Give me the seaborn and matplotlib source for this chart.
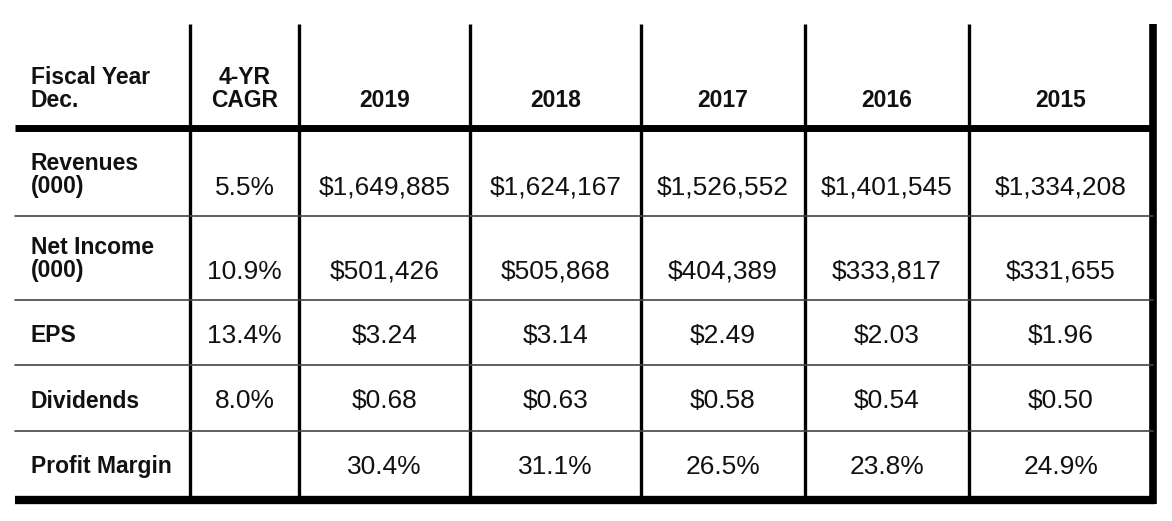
import matplotlib
matplotlib.use("Agg")
import matplotlib.pyplot as plt
import seaborn as sns

sns.set_style("white")
plt.rcParams['font.family'] = ['Liberation Sans', 'DejaVu Sans']

years = ["2019", "2018", "2017", "2016", "2015"]
row_labels = ["Revenues\n(000)", "Net Income\n(000)", "EPS", "Dividends", "Profit Margin"]
cagr = ["5.5%", "10.9%", "13.4%", "8.0%", ""]
revenues = ["$1,649,885", "$1,624,167", "$1,526,552", "$1,401,545", "$1,334,208"]
net_income = ["$501,426", "$505,868", "$404,389", "$333,817", "$331,655"]
eps = ["$3.24", "$3.14", "$2.49", "$2.03", "$1.96"]
dividends = ["$0.68", "$0.63", "$0.58", "$0.54", "$0.50"]
margin = ["30.4%", "31.1%", "26.5%", "23.8%", "24.9%"]
values = [revenues, net_income, eps, dividends, margin]

# layout in pixels
col_x = [15, 190, 299, 470, 641, 805, 969, 1153]
row_y = [128, 216, 300, 365, 431, 500]
top = 24

fig = plt.figure(figsize=(11.72, 5.21), dpi=100)
ax = fig.add_axes([0, 0, 1, 1])
ax.set_xlim(0, 1172)
ax.set_ylim(521, 0)
ax.axis("off")

# vertical lines
for x in col_x[1:-1]:
    ax.plot([x, x], [top, row_y[-1]], color="black", lw=2.4, solid_capstyle="butt")
ax.plot([col_x[-1], col_x[-1]], [top, row_y[-1] + 4], color="black", lw=5.5, solid_capstyle="butt")
# horizontal lines
ax.plot([col_x[0], col_x[-1]], [row_y[0], row_y[0]], color="black", lw=5, solid_capstyle="butt")
for y in row_y[1:-1]:
    ax.plot([col_x[0], col_x[-1]], [y, y], color="#444444", lw=1.2)
ax.plot([col_x[0], col_x[-1] + 2], [row_y[-1], row_y[-1]], color="black", lw=6, solid_capstyle="butt")

centers = [(col_x[i] + col_x[i + 1]) / 2 for i in range(len(col_x) - 1)]
hdr = dict(fontsize=16.5, fontweight="bold", color="#111111", va="bottom", linespacing=1.0)
ax.text(31, 112, "Fiscal Year\nDec.", ha="left", **hdr)
ax.text(centers[1], 112, "4-YR\nCAGR", ha="center", multialignment="center", **hdr)
for i, yr in enumerate(years):
    ax.text(centers[i + 2], 112, yr, ha="center", **hdr)

text_y = [188, 272, 336, 401, 467]
for r, lab in enumerate(row_labels):
    if "\n" in lab:
        ax.text(31, text_y[r] + 10, lab, ha="left", va="bottom", fontsize=16.5,
                fontweight="bold", color="#111111", linespacing=1.0)
    else:
        ax.text(31, text_y[r], lab, ha="left", va="center", fontsize=16.5,
                fontweight="bold", color="#111111")
    ax.text(centers[1], text_y[r], cagr[r], ha="center", va="center", fontsize=19, color="#111111")
    for i, v in enumerate(values[r]):
        ax.text(centers[i + 2], text_y[r], v, ha="center", va="center", fontsize=19, color="#111111")

fig.savefig("out.png", dpi=100, facecolor="white")
